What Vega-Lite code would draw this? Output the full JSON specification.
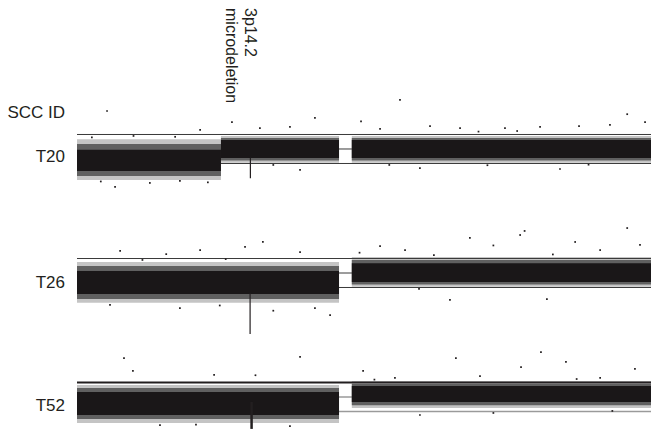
{
  "$schema": "https://vega.github.io/schema/vega-lite/v6.json",
  "background": "white",
  "padding": {"left": 7, "top": 0, "right": 0, "bottom": 0},
  "spacing": 0,
  "bounds": "flush",
  "config": {"view": {"stroke": null}, "font": "Liberation Sans"},
  "datasets": {
    "annot": [{"pos": 58.3, "label": "3p14.2\nmicrodeletion"}],
    "labels": [
      {"sample": "T20", "name": "SCC ID", "pos": 0, "level": 1.24},
      {"sample": "T20", "name": "T20", "pos": 0, "level": -0.28},
      {"sample": "T26", "name": "T26", "pos": 0, "level": -0.34},
      {"sample": "T52", "name": "T52", "pos": 0, "level": -0.31}
    ],
    "refs": [
      {"sample": "T20", "line": "upper", "level": 0.5},
      {"sample": "T20", "line": "normal", "level": 0},
      {"sample": "T20", "line": "lower", "level": -0.5},
      {"sample": "T26", "line": "upper", "level": 0.5},
      {"sample": "T26", "line": "normal", "level": 0},
      {"sample": "T26", "line": "lower", "level": -0.5},
      {"sample": "T52", "line": "upper", "level": 0.5},
      {"sample": "T52", "line": "normal", "level": 0},
      {"sample": "T52", "line": "lower", "level": -0.5}
    ],
    "segments": [
      {"sample": "T20", "start": 0, "end": 48.4, "outer_lo": -1.07, "outer_hi": 0.34, "mid_lo": -0.93, "mid_hi": 0.17, "core_lo": -0.76, "core_hi": -0.03},
      {"sample": "T20", "start": 48.4, "end": 88.1, "outer_lo": -0.47, "outer_hi": 0.45, "mid_lo": -0.4, "mid_hi": 0.38, "core_lo": -0.31, "core_hi": 0.31},
      {"sample": "T20", "start": 92.4, "end": 193, "outer_lo": -0.47, "outer_hi": 0.45, "mid_lo": -0.4, "mid_hi": 0.38, "core_lo": -0.31, "core_hi": 0.31},
      {"sample": "T26", "start": 0, "end": 88.1, "outer_lo": -1.03, "outer_hi": 0.38, "mid_lo": -0.9, "mid_hi": 0.24, "core_lo": -0.72, "core_hi": 0.07},
      {"sample": "T26", "start": 92.4, "end": 193, "outer_lo": -0.47, "outer_hi": 0.55, "mid_lo": -0.4, "mid_hi": 0.45, "core_lo": -0.31, "core_hi": 0.34},
      {"sample": "T52", "start": 0, "end": 88.1, "outer_lo": -0.9, "outer_hi": 0.41, "mid_lo": -0.76, "mid_hi": 0.31, "core_lo": -0.62, "core_hi": 0.17},
      {"sample": "T52", "start": 92.4, "end": 193, "outer_lo": -0.38, "outer_hi": 0.55, "mid_lo": -0.28, "mid_hi": 0.45, "core_lo": -0.17, "core_hi": 0.38}
    ],
    "spikes": [
      {"sample": "T20", "pos": 58.3, "lo": -1.01, "hi": -0.3},
      {"sample": "T26", "pos": 58.2, "lo": -2.1, "hi": -0.7},
      {"sample": "T52", "pos": 58.7, "lo": -1.1, "hi": -0.17}
    ],
    "outliers": [
      {"sample": "T20", "pos": 10.1, "log2": 1.31}, {"sample": "T20", "pos": 12.8, "log2": -1.31},
      {"sample": "T20", "pos": 52.1, "log2": 0.93}, {"sample": "T20", "pos": 80.0, "log2": 1.07},
      {"sample": "T20", "pos": 108.6, "log2": 1.69}, {"sample": "T20", "pos": 143.9, "log2": 0.72},
      {"sample": "T20", "pos": 168.8, "log2": 0.79}, {"sample": "T20", "pos": 191.0, "log2": 0.93},
      {"sample": "T20", "pos": 41.4, "log2": 0.66}, {"sample": "T20", "pos": 61.5, "log2": 0.72},
      {"sample": "T20", "pos": 71.6, "log2": 0.76}, {"sample": "T20", "pos": 101.9, "log2": 0.69},
      {"sample": "T20", "pos": 118.7, "log2": 0.79}, {"sample": "T20", "pos": 128.8, "log2": 0.72},
      {"sample": "T20", "pos": 155.7, "log2": 0.76}, {"sample": "T20", "pos": 179.2, "log2": 0.83},
      {"sample": "T20", "pos": 24.5, "log2": -1.17}, {"sample": "T20", "pos": 34.6, "log2": -1.1},
      {"sample": "T20", "pos": 75.0, "log2": -0.72}, {"sample": "T20", "pos": 115.3, "log2": -0.66},
      {"sample": "T20", "pos": 162.4, "log2": -0.69}, {"sample": "T20", "pos": 185.0, "log2": 1.2},
      {"sample": "T20", "pos": 95.5, "log2": 0.95}, {"sample": "T20", "pos": 135.0, "log2": 0.6},
      {"sample": "T20", "pos": 148.0, "log2": 0.62}, {"sample": "T20", "pos": 5.0, "log2": 0.4},
      {"sample": "T20", "pos": 19.0, "log2": 0.45}, {"sample": "T20", "pos": 33.0, "log2": 0.42},
      {"sample": "T20", "pos": 8.0, "log2": -1.12}, {"sample": "T20", "pos": 44.0, "log2": -1.15},
      {"sample": "T20", "pos": 105.0, "log2": -0.55}, {"sample": "T20", "pos": 138.0, "log2": -0.56},
      {"sample": "T20", "pos": 172.0, "log2": -0.54}, {"sample": "T20", "pos": 66.0, "log2": -0.55},
      {"sample": "T26", "pos": 62.5, "log2": 1.07}, {"sample": "T26", "pos": 56.5, "log2": 0.9},
      {"sample": "T26", "pos": 14.5, "log2": 0.76}, {"sample": "T26", "pos": 41.4, "log2": 0.79},
      {"sample": "T26", "pos": 75.0, "log2": 0.72}, {"sample": "T26", "pos": 101.9, "log2": 0.93},
      {"sample": "T26", "pos": 132.1, "log2": 1.21}, {"sample": "T26", "pos": 149.0, "log2": 1.31},
      {"sample": "T26", "pos": 167.5, "log2": 1.07}, {"sample": "T26", "pos": 189.3, "log2": 0.97},
      {"sample": "T26", "pos": 110.3, "log2": 0.79}, {"sample": "T26", "pos": 175.9, "log2": 0.79},
      {"sample": "T26", "pos": 11.1, "log2": -1.1}, {"sample": "T26", "pos": 34.6, "log2": -1.21},
      {"sample": "T26", "pos": 80.0, "log2": -1.21}, {"sample": "T26", "pos": 85.1, "log2": -1.45},
      {"sample": "T26", "pos": 125.4, "log2": -0.93}, {"sample": "T26", "pos": 158.0, "log2": -0.9},
      {"sample": "T26", "pos": 140.0, "log2": 0.95}, {"sample": "T26", "pos": 95.0, "log2": 0.7},
      {"sample": "T26", "pos": 30.0, "log2": 0.65}, {"sample": "T26", "pos": 66.0, "log2": -1.3},
      {"sample": "T26", "pos": 185.0, "log2": 1.55}, {"sample": "T26", "pos": 150.5, "log2": 1.45},
      {"sample": "T26", "pos": 22.0, "log2": 0.45}, {"sample": "T26", "pos": 50.0, "log2": 0.48},
      {"sample": "T26", "pos": 120.0, "log2": 0.62}, {"sample": "T26", "pos": 160.0, "log2": 0.64},
      {"sample": "T26", "pos": 48.0, "log2": -1.12}, {"sample": "T26", "pos": 115.0, "log2": -0.55},
      {"sample": "T52", "pos": 15.8, "log2": 1.34}, {"sample": "T52", "pos": 18.8, "log2": 0.9},
      {"sample": "T52", "pos": 46.1, "log2": 0.76}, {"sample": "T52", "pos": 75.0, "log2": 1.38},
      {"sample": "T52", "pos": 96.2, "log2": 0.9}, {"sample": "T52", "pos": 127.4, "log2": 1.34},
      {"sample": "T52", "pos": 149.3, "log2": 1.03}, {"sample": "T52", "pos": 156.0, "log2": 1.55},
      {"sample": "T52", "pos": 164.4, "log2": 1.21}, {"sample": "T52", "pos": 187.6, "log2": 0.97},
      {"sample": "T52", "pos": 106.9, "log2": 0.66}, {"sample": "T52", "pos": 135.5, "log2": 0.72},
      {"sample": "T52", "pos": 175.9, "log2": 0.66}, {"sample": "T52", "pos": 27.9, "log2": -0.97},
      {"sample": "T52", "pos": 71.6, "log2": -1.0}, {"sample": "T52", "pos": 115.3, "log2": -0.62},
      {"sample": "T52", "pos": 140.0, "log2": -0.55}, {"sample": "T52", "pos": 60.0, "log2": 0.75},
      {"sample": "T52", "pos": 100.0, "log2": 0.6}, {"sample": "T52", "pos": 168.0, "log2": 0.62},
      {"sample": "T52", "pos": 40.0, "log2": -0.95}, {"sample": "T52", "pos": 180.0, "log2": -0.48}
    ]
  },
  "vconcat": [
    {
      "width": 574, "height": 16,
      "data": {"name": "annot"},
      "mark": {"type": "text", "angle": 90, "align": "left", "baseline": "middle", "dy": 0, "lineBreak": "\n", "lineHeight": 19, "fontSize": 16, "color": "#231f20", "font": "Liberation Sans"},
      "encoding": {
        "x": {"field": "pos", "type": "quantitative", "scale": {"domain": [0, 193], "nice": false, "zero": false}, "axis": null},
        "text": {"field": "label"}
      }
    },
    {
      "width": 574, "height": 195,
      "layer": [
        {
          "data": {"name": "segments"}, "transform": [{"filter": "datum.sample === 'T20'"}],
          "mark": {"type": "rect", "color": "#c4c4c4"},
          "encoding": {
            "x": {"field": "start", "type": "quantitative", "scale": {"domain": [0, 193], "nice": false, "zero": false}, "axis": null},
            "x2": {"field": "end"},
            "y": {"field": "outer_lo", "type": "quantitative", "scale": {"domain": [-2.138, 4.586], "nice": false, "zero": false}, "axis": null},
            "y2": {"field": "outer_hi"}
          }
        },
        {
          "data": {"name": "refs"}, "transform": [{"filter": "datum.sample === 'T20'"}],
          "mark": {"type": "rule", "color": "#3a3a3a", "strokeWidth": 1},
          "encoding": {
            "y": {"field": "level", "type": "quantitative", "scale": {"domain": [-2.138, 4.586], "nice": false, "zero": false}, "axis": null}
          }
        },
        {
          "data": {"name": "segments"}, "transform": [{"filter": "datum.sample === 'T20'"}],
          "mark": {"type": "rect", "color": "#606060"},
          "encoding": {
            "x": {"field": "start", "type": "quantitative", "scale": {"domain": [0, 193], "nice": false, "zero": false}, "axis": null},
            "x2": {"field": "end"},
            "y": {"field": "mid_lo", "type": "quantitative", "scale": {"domain": [-2.138, 4.586], "nice": false, "zero": false}, "axis": null},
            "y2": {"field": "mid_hi"}
          }
        },
        {
          "data": {"name": "segments"}, "transform": [{"filter": "datum.sample === 'T20'"}],
          "mark": {"type": "rect", "color": "#1a1718"},
          "encoding": {
            "x": {"field": "start", "type": "quantitative", "scale": {"domain": [0, 193], "nice": false, "zero": false}, "axis": null},
            "x2": {"field": "end"},
            "y": {"field": "core_lo", "type": "quantitative", "scale": {"domain": [-2.138, 4.586], "nice": false, "zero": false}, "axis": null},
            "y2": {"field": "core_hi"}
          }
        },
        {
          "data": {"name": "spikes"}, "transform": [{"filter": "datum.sample === 'T20'"}],
          "mark": {"type": "rule", "color": "#231f20", "strokeWidth": 1.2},
          "encoding": {
            "x": {"field": "pos", "type": "quantitative", "scale": {"domain": [0, 193], "nice": false, "zero": false}, "axis": null},
            "y": {"field": "lo", "type": "quantitative", "scale": {"domain": [-2.138, 4.586], "nice": false, "zero": false}, "axis": null},
            "y2": {"field": "hi"}
          }
        },
        {
          "data": {"name": "outliers"}, "transform": [{"filter": "datum.sample === 'T20'"}],
          "mark": {"type": "square", "color": "#231f20", "size": 3, "opacity": 1},
          "encoding": {
            "x": {"field": "pos", "type": "quantitative", "scale": {"domain": [0, 193], "nice": false, "zero": false}, "axis": null},
            "y": {"field": "log2", "type": "quantitative", "scale": {"domain": [-2.138, 4.586], "nice": false, "zero": false}, "axis": null}
          }
        },
        {
          "data": {"name": "labels"}, "transform": [{"filter": "datum.sample === 'T20'"}],
          "mark": {"type": "text", "align": "right", "baseline": "middle", "dx": -12, "fontSize": 17, "color": "#231f20", "font": "Liberation Sans"},
          "encoding": {
            "x": {"field": "pos", "type": "quantitative", "scale": {"domain": [0, 193], "nice": false, "zero": false}, "axis": null},
            "y": {"field": "level", "type": "quantitative", "scale": {"domain": [-2.138, 4.586], "nice": false, "zero": false}, "axis": null},
            "text": {"field": "name"}
          }
        }
      ]
    },
    {
      "width": 574, "height": 124,
      "layer": [
        {
          "data": {"name": "segments"}, "transform": [{"filter": "datum.sample === 'T26'"}],
          "mark": {"type": "rect", "color": "#c4c4c4"},
          "encoding": {
            "x": {"field": "start", "type": "quantitative", "scale": {"domain": [0, 193], "nice": false, "zero": false}, "axis": null},
            "x2": {"field": "end"},
            "y": {"field": "outer_lo", "type": "quantitative", "scale": {"domain": [-2.138, 2.138], "nice": false, "zero": false}, "axis": null},
            "y2": {"field": "outer_hi"}
          }
        },
        {
          "data": {"name": "refs"}, "transform": [{"filter": "datum.sample === 'T26'"}],
          "mark": {"type": "rule", "color": "#3a3a3a", "strokeWidth": 1},
          "encoding": {
            "y": {"field": "level", "type": "quantitative", "scale": {"domain": [-2.138, 2.138], "nice": false, "zero": false}, "axis": null}
          }
        },
        {
          "data": {"name": "segments"}, "transform": [{"filter": "datum.sample === 'T26'"}],
          "mark": {"type": "rect", "color": "#606060"},
          "encoding": {
            "x": {"field": "start", "type": "quantitative", "scale": {"domain": [0, 193], "nice": false, "zero": false}, "axis": null},
            "x2": {"field": "end"},
            "y": {"field": "mid_lo", "type": "quantitative", "scale": {"domain": [-2.138, 2.138], "nice": false, "zero": false}, "axis": null},
            "y2": {"field": "mid_hi"}
          }
        },
        {
          "data": {"name": "segments"}, "transform": [{"filter": "datum.sample === 'T26'"}],
          "mark": {"type": "rect", "color": "#1a1718"},
          "encoding": {
            "x": {"field": "start", "type": "quantitative", "scale": {"domain": [0, 193], "nice": false, "zero": false}, "axis": null},
            "x2": {"field": "end"},
            "y": {"field": "core_lo", "type": "quantitative", "scale": {"domain": [-2.138, 2.138], "nice": false, "zero": false}, "axis": null},
            "y2": {"field": "core_hi"}
          }
        },
        {
          "data": {"name": "spikes"}, "transform": [{"filter": "datum.sample === 'T26'"}],
          "mark": {"type": "rule", "color": "#231f20", "strokeWidth": 1.2},
          "encoding": {
            "x": {"field": "pos", "type": "quantitative", "scale": {"domain": [0, 193], "nice": false, "zero": false}, "axis": null},
            "y": {"field": "lo", "type": "quantitative", "scale": {"domain": [-2.138, 2.138], "nice": false, "zero": false}, "axis": null},
            "y2": {"field": "hi"}
          }
        },
        {
          "data": {"name": "outliers"}, "transform": [{"filter": "datum.sample === 'T26'"}],
          "mark": {"type": "square", "color": "#231f20", "size": 3, "opacity": 1},
          "encoding": {
            "x": {"field": "pos", "type": "quantitative", "scale": {"domain": [0, 193], "nice": false, "zero": false}, "axis": null},
            "y": {"field": "log2", "type": "quantitative", "scale": {"domain": [-2.138, 2.138], "nice": false, "zero": false}, "axis": null}
          }
        },
        {
          "data": {"name": "labels"}, "transform": [{"filter": "datum.sample === 'T26'"}],
          "mark": {"type": "text", "align": "right", "baseline": "middle", "dx": -12, "fontSize": 17, "color": "#231f20", "font": "Liberation Sans"},
          "encoding": {
            "x": {"field": "pos", "type": "quantitative", "scale": {"domain": [0, 193], "nice": false, "zero": false}, "axis": null},
            "y": {"field": "level", "type": "quantitative", "scale": {"domain": [-2.138, 2.138], "nice": false, "zero": false}, "axis": null},
            "text": {"field": "name"}
          }
        }
      ]
    },
    {
      "width": 574, "height": 94,
      "layer": [
        {
          "data": {"name": "segments"}, "transform": [{"filter": "datum.sample === 'T52'"}],
          "mark": {"type": "rect", "color": "#c4c4c4"},
          "encoding": {
            "x": {"field": "start", "type": "quantitative", "scale": {"domain": [0, 193], "nice": false, "zero": false}, "axis": null},
            "x2": {"field": "end"},
            "y": {"field": "outer_lo", "type": "quantitative", "scale": {"domain": [-1.103, 2.138], "nice": false, "zero": false}, "axis": null},
            "y2": {"field": "outer_hi"}
          }
        },
        {
          "data": {"name": "refs"}, "transform": [{"filter": "datum.sample === 'T52' && datum.line !== 'upper'"}],
          "mark": {"type": "rule", "color": "#9a9a9a", "strokeWidth": 1.5},
          "encoding": {
            "y": {"field": "level", "type": "quantitative", "scale": {"domain": [-1.103, 2.138], "nice": false, "zero": false}, "axis": null}
          }
        },
        {
          "data": {"name": "refs"}, "transform": [{"filter": "datum.sample === 'T52' && datum.line === 'upper'"}],
          "mark": {"type": "rule", "color": "#231f20", "strokeWidth": 2},
          "encoding": {
            "y": {"field": "level", "type": "quantitative", "scale": {"domain": [-1.103, 2.138], "nice": false, "zero": false}, "axis": null}
          }
        },
        {
          "data": {"name": "segments"}, "transform": [{"filter": "datum.sample === 'T52'"}],
          "mark": {"type": "rect", "color": "#606060"},
          "encoding": {
            "x": {"field": "start", "type": "quantitative", "scale": {"domain": [0, 193], "nice": false, "zero": false}, "axis": null},
            "x2": {"field": "end"},
            "y": {"field": "mid_lo", "type": "quantitative", "scale": {"domain": [-1.103, 2.138], "nice": false, "zero": false}, "axis": null},
            "y2": {"field": "mid_hi"}
          }
        },
        {
          "data": {"name": "segments"}, "transform": [{"filter": "datum.sample === 'T52'"}],
          "mark": {"type": "rect", "color": "#1a1718"},
          "encoding": {
            "x": {"field": "start", "type": "quantitative", "scale": {"domain": [0, 193], "nice": false, "zero": false}, "axis": null},
            "x2": {"field": "end"},
            "y": {"field": "core_lo", "type": "quantitative", "scale": {"domain": [-1.103, 2.138], "nice": false, "zero": false}, "axis": null},
            "y2": {"field": "core_hi"}
          }
        },
        {
          "data": {"name": "spikes"}, "transform": [{"filter": "datum.sample === 'T52'"}],
          "mark": {"type": "rule", "color": "#231f20", "strokeWidth": 2.5},
          "encoding": {
            "x": {"field": "pos", "type": "quantitative", "scale": {"domain": [0, 193], "nice": false, "zero": false}, "axis": null},
            "y": {"field": "lo", "type": "quantitative", "scale": {"domain": [-1.103, 2.138], "nice": false, "zero": false}, "axis": null},
            "y2": {"field": "hi"}
          }
        },
        {
          "data": {"name": "outliers"}, "transform": [{"filter": "datum.sample === 'T52'"}],
          "mark": {"type": "square", "color": "#231f20", "size": 3, "opacity": 1},
          "encoding": {
            "x": {"field": "pos", "type": "quantitative", "scale": {"domain": [0, 193], "nice": false, "zero": false}, "axis": null},
            "y": {"field": "log2", "type": "quantitative", "scale": {"domain": [-1.103, 2.138], "nice": false, "zero": false}, "axis": null}
          }
        },
        {
          "data": {"name": "labels"}, "transform": [{"filter": "datum.sample === 'T52'"}],
          "mark": {"type": "text", "align": "right", "baseline": "middle", "dx": -12, "fontSize": 17, "color": "#231f20", "font": "Liberation Sans"},
          "encoding": {
            "x": {"field": "pos", "type": "quantitative", "scale": {"domain": [0, 193], "nice": false, "zero": false}, "axis": null},
            "y": {"field": "level", "type": "quantitative", "scale": {"domain": [-1.103, 2.138], "nice": false, "zero": false}, "axis": null},
            "text": {"field": "name"}
          }
        }
      ]
    }
  ]
}
